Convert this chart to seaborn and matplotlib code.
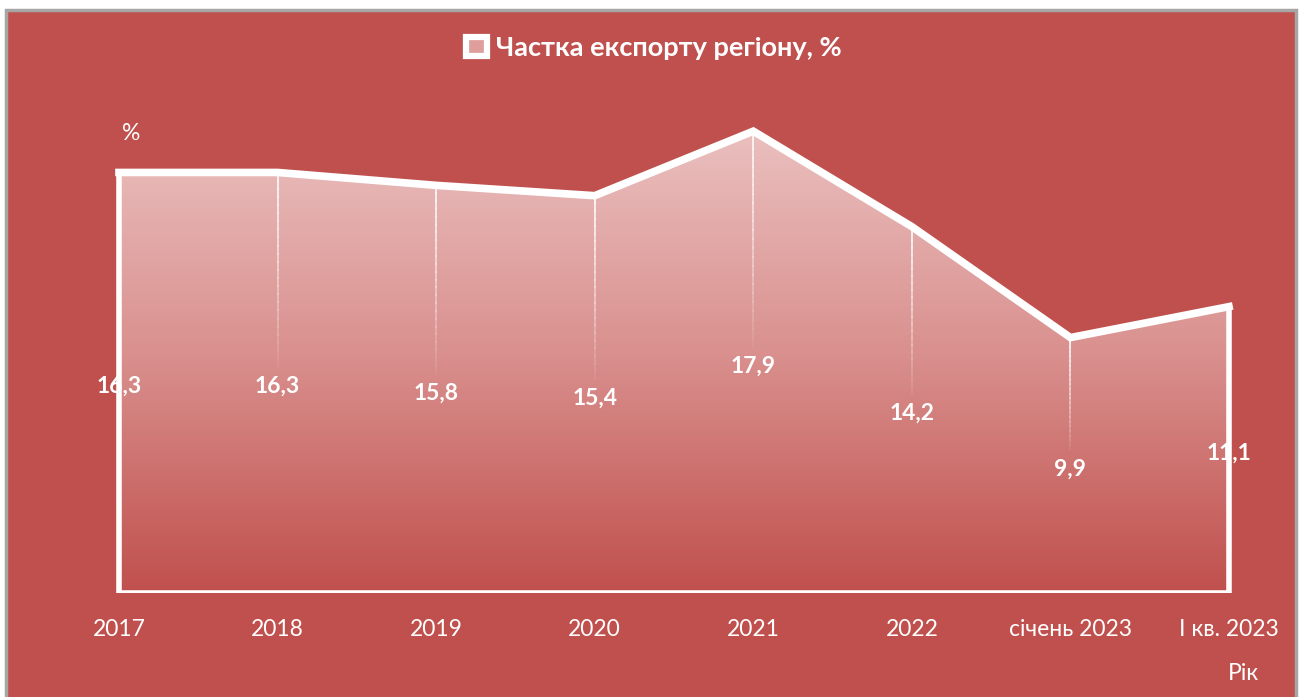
import numpy as np
import pandas as pd
import seaborn as sns
import matplotlib.pyplot as plt
from matplotlib.colors import LinearSegmentedColormap
from matplotlib.patches import Patch, Rectangle

sns.set_style("white")
plt.rcParams["font.family"] = ["Lato", "DejaVu Sans"]

periods = ["2017", "2018", "2019", "2020", "2021", "2022", "січень 2023", "І кв. 2023"]
shares = [16.3, 16.3, 15.8, 15.4, 17.9, 14.2, 9.9, 11.1]

BG = "#C0504D"
df = pd.DataFrame({"period": periods, "share": shares})
xs = np.arange(len(periods))
vals = np.array(shares)

fig = plt.figure(figsize=(13.02, 6.97), dpi=100, facecolor="white")
fig.patches.append(Rectangle((6 / 1302, -0.02), 1290 / 1302, 1 - 10 / 697 + 0.02,
                             transform=fig.transFigure, fc=BG, ec="#A6A6A6", lw=2.5, zorder=-1))

# axes placed so that category 0 sits at x=119px and value 0 at y=593px
ax = fig.add_axes([40 / 1302, 104 / 697, 1250 / 1302, 493 / 697])
ax.set_facecolor("none")
ax.set_xlim(-79 / 158.57, 7 + 61 / 158.57)
ax.set_ylim(0, 493 / 25.8)

# gradient filled area
fill = ax.fill_between(xs, 0, vals, facecolor="none", edgecolor="white", lw=4,
                       joinstyle="miter", zorder=3)
cmap = LinearSegmentedColormap.from_list("grad", ["#EBC3C2", "#D9908E", BG])
grad = np.linspace(0, 1, 256).reshape(-1, 1)
img = ax.imshow(grad, cmap=cmap, extent=[xs[0], xs[-1], 0, 18.5], aspect="auto",
                origin="upper", zorder=2)
img.set_clip_path(fill.get_paths()[0], transform=ax.transData)

# fading drop lines
for x, v in zip(xs[1:-1], vals[1:-1]):
    steps = np.linspace(v, v / 2 + 0.6, 25)
    for i in range(len(steps) - 1):
        ax.plot([x, x], [steps[i], steps[i + 1]], color="white",
                alpha=0.95 * (1 - i / len(steps)), lw=1.2, zorder=3)

sns.lineplot(data=df, x="period", y="share", sort=False, color="white", lw=5.5,
             solid_capstyle="projecting", solid_joinstyle="miter", ax=ax, zorder=4)

for x, v in zip(xs, vals):
    ax.text(x, v / 2 - 0.15, f"{v:.1f}".replace(".", ","), color="white",
            fontsize=16.5, fontweight="bold", ha="center", va="center", zorder=5)

ax.set_xticks(xs)
ax.set_xticklabels(periods, color="white", fontsize=16.5)
ax.set_yticks([])
ax.tick_params(axis="x", length=0, pad=19)
ax.set(xlabel="", ylabel="")
sns.despine(ax=ax, left=True, bottom=True)

fig.text(131 / 1302, 1 - 133 / 697, "%", color="white", fontsize=16.5,
         ha="center", va="center")
fig.text(1243 / 1302, 1 - 673 / 697, "Рік", color="white", fontsize=16.5,
         ha="center", va="center")

handle = Patch(facecolor="#DE9E9C", edgecolor="white", linewidth=4.5)
leg = fig.legend([handle], ["Частка експорту регіону, %"], loc="center",
                 bbox_to_anchor=(654 / 1302, 1 - 48 / 697), frameon=False,
                 handlelength=0.75, handleheight=0.75, handletextpad=0.35,
                 prop={"size": 19.5, "weight": "bold"})
for t in leg.get_texts():
    t.set_color("white")

fig.savefig("out.png", dpi=100)
